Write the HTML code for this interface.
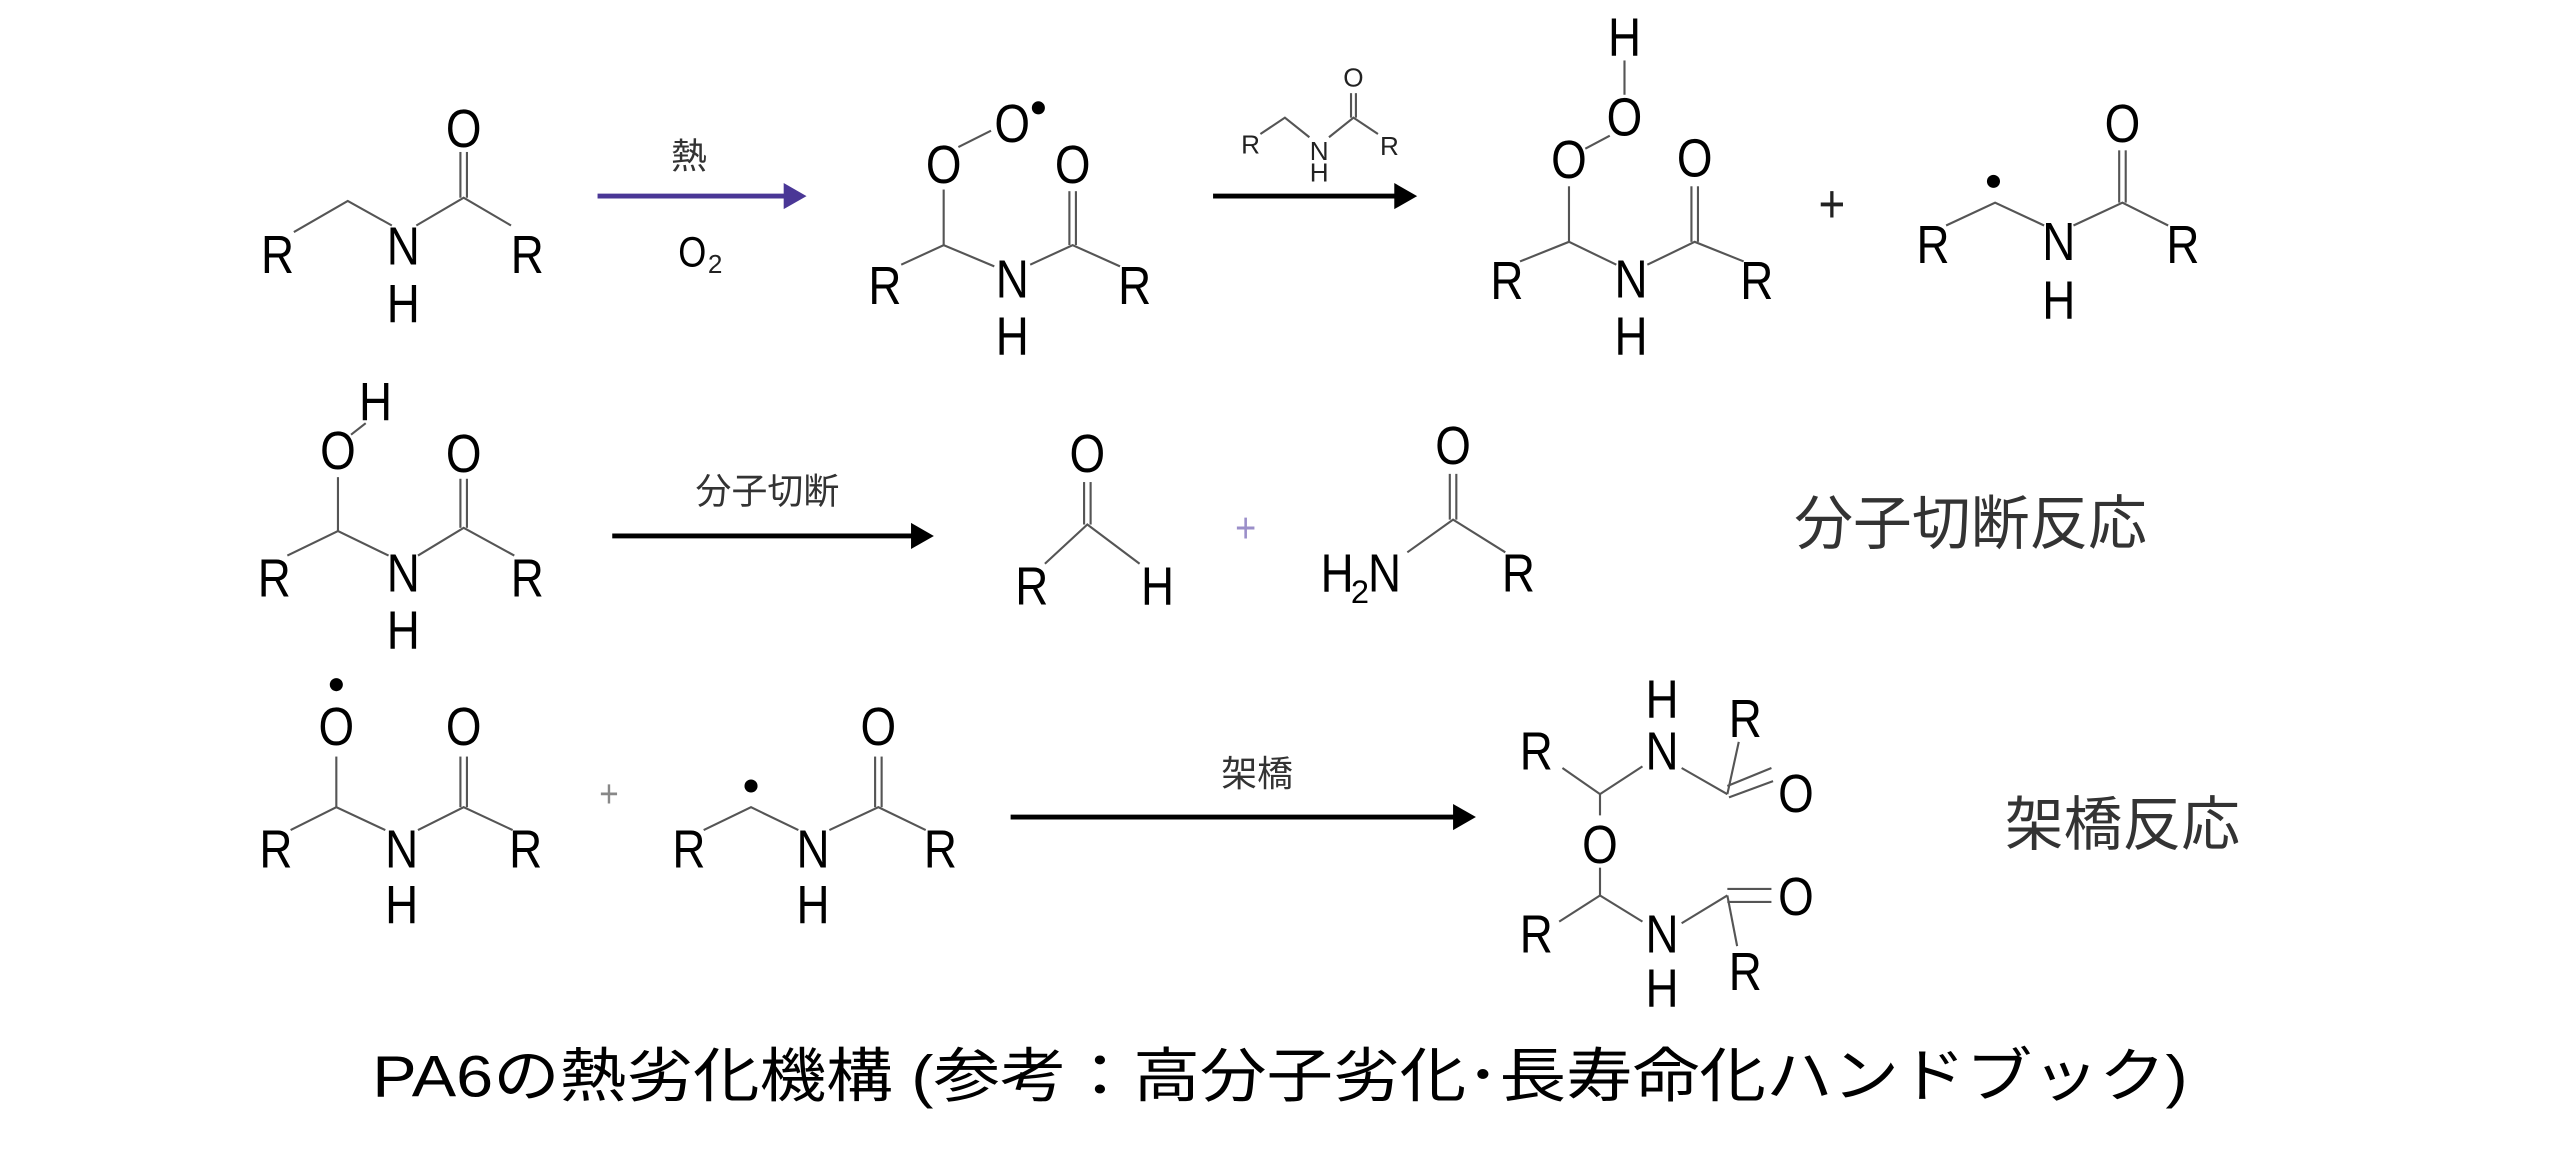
<!DOCTYPE html>
<html><head><meta charset="utf-8"><style>
html,body{margin:0;padding:0;background:#fff;}
svg{display:block;}
.a{font-family:"Liberation Sans",Arial,sans-serif;font-size:33px;fill:#000;text-anchor:middle;transform-box:fill-box;transform-origin:center;transform:scaleX(0.85);}
.s{font-family:"Liberation Sans",Arial,sans-serif;font-size:16px;fill:#222;text-anchor:middle;}
.j{font-family:"Liberation Sans","Noto Sans CJK JP",sans-serif;text-anchor:middle;fill:#333;}
.b{stroke:#555;stroke-width:1.3;fill:none;}
</style></head><body>
<svg width="2560" height="1152" viewBox="0 0 1568 705" preserveAspectRatio="none" xmlns="http://www.w3.org/2000/svg">
<rect width="1568" height="705" fill="#fff"/>
<g>
<text class="a" x="170" y="167">R</text><text class="a" x="247" y="162">N</text><text class="a" x="247" y="197">H</text>
<text class="a" x="284" y="90">O</text><text class="a" x="323" y="167">R</text>
<polyline class="b" points="180,142 213,123 240,138"/><polyline class="b" points="255,138 284,121 313,138"/>
<line class="b" x1="282" y1="121" x2="282" y2="93"/><line class="b" x1="286" y1="121" x2="286" y2="93"/>
</g>
<line x1="366" y1="120" x2="482" y2="120" stroke="#4a3796" stroke-width="3"/>
<polygon points="480,112 494,120 480,128" fill="#4a3796"/>
<text class="j" x="422" y="103" font-size="22">熱</text>
<text class="a" x="424" y="163" style="font-size:26px">O</text><text class="s" x="438" y="167" style="font-size:16px">2</text>
<g>
<text class="a" x="620" y="87">O</text><circle cx="636" cy="66" r="4"/>
<text class="a" x="578" y="112">O</text>
<line class="b" x1="587" y1="90" x2="607" y2="80"/>
<line class="b" x1="578" y1="116" x2="578" y2="150"/>
<text class="a" x="542" y="186">R</text><text class="a" x="620" y="182">N</text><text class="a" x="620" y="217">H</text>
<polyline class="b" points="552,162 578,150 609,163"/><polyline class="b" points="631,162 657,150 686,163"/>
<line class="b" x1="655" y1="150" x2="655" y2="117"/><line class="b" x1="659" y1="150" x2="659" y2="117"/>
<text class="a" x="657" y="112">O</text><text class="a" x="695" y="186">R</text>
</g>
<line x1="743" y1="120" x2="856" y2="120" stroke="#000" stroke-width="3"/>
<polygon points="854,112 868,120 854,128" fill="#000"/>
<g>
<text class="s" x="766" y="94">R</text><text class="s" x="808" y="98">N</text><text class="s" x="808" y="111">H</text>
<text class="s" x="829" y="53">O</text><text class="s" x="851" y="95">R</text>
<polyline class="b" points="772,82 787,72 802,84" stroke-width="1"/><polyline class="b" points="814,84 829,72 844,82" stroke-width="1"/>
<line class="b" x1="827.5" y1="72" x2="827.5" y2="57" stroke-width="1"/><line class="b" x1="830.5" y1="72" x2="830.5" y2="57" stroke-width="1"/>
</g>
<g>
<text class="a" x="995" y="34">H</text><line class="b" x1="995" y1="37" x2="995" y2="58"/>
<text class="a" x="995" y="83">O</text><line class="b" x1="986" y1="83" x2="971" y2="91"/>
<text class="a" x="961" y="109">O</text><line class="b" x1="961" y1="114" x2="961" y2="148"/>
<text class="a" x="923" y="183">R</text><text class="a" x="999" y="182">N</text><text class="a" x="999" y="217">H</text>
<polyline class="b" points="931,160 961,148 990,162"/><polyline class="b" points="1009,162 1038,148 1068,160"/>
<line class="b" x1="1036" y1="148" x2="1036" y2="114"/><line class="b" x1="1040" y1="148" x2="1040" y2="114"/>
<text class="a" x="1038" y="108">O</text><text class="a" x="1076" y="183">R</text>
</g>
<text class="a" x="1122" y="136" style="fill:#222">+</text>
<g>
<text class="a" x="1184" y="161">R</text><circle cx="1221" cy="111" r="4"/>
<polyline class="b" points="1192,138 1222,124 1252,138"/>
<text class="a" x="1261" y="159">N</text><text class="a" x="1261" y="195">H</text>
<polyline class="b" points="1270,138 1300,124 1328,138"/>
<line class="b" x1="1298" y1="124" x2="1298" y2="92"/><line class="b" x1="1302" y1="124" x2="1302" y2="92"/>
<text class="a" x="1300" y="87">O</text><text class="a" x="1337" y="161">R</text>
</g>
<g>
<text class="a" x="230" y="257">H</text><line class="b" x1="215" y1="266" x2="224" y2="259"/>
<text class="a" x="207" y="287">O</text><line class="b" x1="207" y1="292" x2="207" y2="325"/>
<text class="a" x="168" y="365">R</text><text class="a" x="247" y="362">N</text><text class="a" x="247" y="397">H</text>
<polyline class="b" points="176,340 207,325 238,340"/><polyline class="b" points="256,340 284,323 315,340"/>
<line class="b" x1="282" y1="323" x2="282" y2="293"/><line class="b" x1="286" y1="323" x2="286" y2="293"/>
<text class="a" x="284" y="289">O</text><text class="a" x="323" y="365">R</text>
</g>
<line x1="375" y1="328" x2="560" y2="328" stroke="#000" stroke-width="3"/>
<polygon points="558,320 572,328 558,336" fill="#000"/>
<text class="j" x="470" y="308" font-size="22">分子切断</text>
<g>
<text class="a" x="666" y="289">O</text>
<line class="b" x1="664" y1="321" x2="664" y2="295"/><line class="b" x1="668" y1="321" x2="668" y2="295"/>
<polyline class="b" points="640,345 666,321 698,345"/>
<text class="a" x="632" y="370">R</text><text class="a" x="709" y="370">H</text>
</g>
<text class="a" x="763" y="332" style="fill:#9b8fc9;font-size:26px">+</text>
<g>
<text class="a" x="819" y="362">H</text><text class="s" x="833" y="369" style="font-size:20px;fill:#000">2</text><text class="a" x="848" y="362">N</text>
<polyline class="b" points="862,338 890,318 922,338"/>
<line class="b" x1="888" y1="318" x2="888" y2="290"/><line class="b" x1="892" y1="318" x2="892" y2="290"/>
<text class="a" x="890" y="284">O</text><text class="a" x="930" y="362">R</text>
</g>
<text class="j" x="1207" y="333" font-size="36">分子切断反応</text>
<g>
<circle cx="206" cy="419" r="4"/>
<text class="a" x="206" y="456">O</text><line class="b" x1="206" y1="463" x2="206" y2="494"/>
<text class="a" x="169" y="531">R</text><text class="a" x="246" y="531">N</text><text class="a" x="246" y="565">H</text>
<polyline class="b" points="178,508 206,494 236,508"/><polyline class="b" points="256,508 284,494 314,508"/>
<line class="b" x1="282" y1="494" x2="282" y2="463"/><line class="b" x1="286" y1="494" x2="286" y2="463"/>
<text class="a" x="284" y="456">O</text><text class="a" x="322" y="531">R</text>
</g>
<text class="a" x="373" y="494" style="fill:#888;font-size:24px">+</text>
<g>
<circle cx="460" cy="481" r="4"/>
<text class="a" x="422" y="531">R</text><text class="a" x="498" y="531">N</text><text class="a" x="498" y="565">H</text>
<polyline class="b" points="431,508 460,494 489,508"/><polyline class="b" points="508,508 538,494 567,508"/>
<line class="b" x1="536" y1="494" x2="536" y2="463"/><line class="b" x1="540" y1="494" x2="540" y2="463"/>
<text class="a" x="538" y="456">O</text><text class="a" x="576" y="531">R</text>
</g>
<line x1="619" y1="500" x2="892" y2="500" stroke="#000" stroke-width="3"/>
<polygon points="890,492 904,500 890,508" fill="#000"/>
<text class="j" x="770" y="481" font-size="22">架橋</text>
<g>
<text class="a" x="1018" y="439">H</text><text class="a" x="1018" y="471">N</text>
<text class="a" x="941" y="471">R</text>
<polyline class="b" points="957,470 980,486 1006,469"/>
<line class="b" x1="1030" y1="470" x2="1058" y2="486"/>
<line class="b" x1="1058" y1="486" x2="1065" y2="454"/>
<text class="a" x="1069" y="451">R</text>
<line class="b" x1="1058" y1="481" x2="1085" y2="470"/><line class="b" x1="1059" y1="488" x2="1086" y2="478"/>
<text class="a" x="1100" y="497">O</text>
<line class="b" x1="980" y1="486" x2="980" y2="499"/>
<text class="a" x="980" y="528">O</text>
<line class="b" x1="980" y1="531" x2="980" y2="548"/>
<polyline class="b" points="955,564 980,548 1006,564"/>
<text class="a" x="941" y="583">R</text><text class="a" x="1018" y="583">N</text><text class="a" x="1018" y="616">H</text>
<line class="b" x1="1030" y1="565" x2="1058" y2="548"/>
<line class="b" x1="1058" y1="544" x2="1085" y2="544"/><line class="b" x1="1058" y1="552" x2="1085" y2="552"/>
<text class="a" x="1100" y="560">O</text>
<line class="b" x1="1058" y1="548" x2="1064" y2="579"/>
<text class="a" x="1069" y="606">R</text>
</g>
<text class="j" x="1300" y="517" font-size="36">架橋反応</text>
<text class="j" x="784" y="671" font-size="36" style="fill:#000" textLength="1112" lengthAdjust="spacingAndGlyphs">PA6の熱劣化機構 (参考：高分子劣化･長寿命化ハンドブック)</text>
</svg>
</body></html>
